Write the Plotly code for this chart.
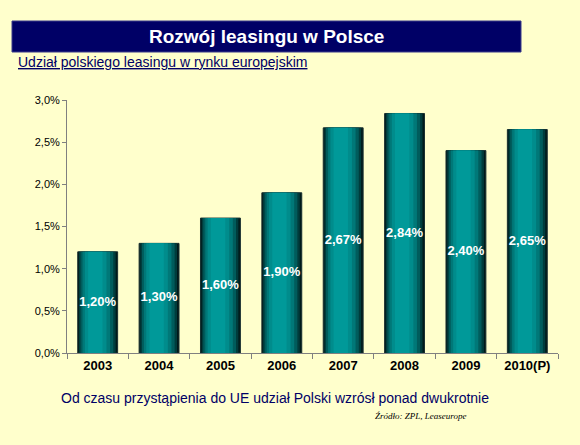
import plotly.graph_objects as go

years = ["2003", "2004", "2005", "2006", "2007", "2008", "2009", "2010(P)"]
share = [1.20, 1.30, 1.60, 1.90, 2.67, 2.84, 2.40, 2.65]
labels = [f"{v:.2f}".replace(".", ",") + "%" for v in share]

W, H = 580, 445
L, R, T, B = 67, 22, 100, 92
pw, ph = W - L - R, H - T - B


def px_x(px):
    return (px - L) / pw


def px_y(py):
    return (H - B - py) / ph


fig = go.Figure()

# fake cylinder shading: stacked overlay bars, dark edges -> teal centre
bar_w = 0.65
layers = [
    (0.00, 1.00, "#001a1a"),
    (0.03, 0.95, "#003c3c"),
    (0.07, 0.89, "#005c5c"),
    (0.12, 0.81, "#007878"),
    (0.18, 0.72, "#008c8c"),
    (0.26, 0.62, "#009999"),
]
for i, (a, b, col) in enumerate(layers):
    fig.add_trace(go.Bar(
        x=years, y=share,
        offset=-bar_w / 2 + a * bar_w, width=(b - a) * bar_w,
        marker=dict(color=col, line=dict(width=1 if i == 0 else 0, color="#1a3030")),
        hoverinfo="skip", showlegend=False,
    ))

fig.add_trace(go.Scatter(
    x=years, y=[v / 2 for v in share], mode="text", text=labels,
    textfont=dict(family="Arial, Liberation Sans", size=13, color="white", weight="bold"),
    showlegend=False, hoverinfo="skip",
))

fig.add_shape(type="rect", xref="paper", yref="paper",
              x0=px_x(12), x1=px_x(521), y0=px_y(52), y1=px_y(21),
              fillcolor="#000066", line=dict(color="#3a3a8a", width=1))

fig.add_annotation(xref="paper", yref="paper", x=px_x(266), y=px_y(36.5),
                   text="<b>Rozwój leasingu w Polsce</b>", showarrow=False,
                   font=dict(family="Arial, Liberation Sans", size=19, color="white"),
                   xanchor="center", yanchor="middle")
fig.add_annotation(xref="paper", yref="paper", x=px_x(16), y=px_y(62),
                   text="<u>Udział polskiego leasingu w rynku europejskim</u>", showarrow=False,
                   font=dict(family="Arial, Liberation Sans", size=14, color="#000066"),
                   xanchor="left", yanchor="middle")
fig.add_annotation(xref="paper", yref="paper", x=px_x(275), y=px_y(398),
                   text="Od czasu przystąpienia do UE udział Polski wzrósł ponad dwukrotnie",
                   showarrow=False,
                   font=dict(family="Arial, Liberation Sans", size=14, color="#000066"),
                   xanchor="center", yanchor="middle")
fig.add_annotation(xref="paper", yref="paper", x=px_x(373), y=px_y(416),
                   text="<i>Źródło: ZPL, Leaseurope</i>", showarrow=False,
                   font=dict(family="Times New Roman, Liberation Serif", size=9, color="black"),
                   xanchor="left", yanchor="middle")

fig.update_layout(
    width=W, height=H,
    margin=dict(l=L, r=R, t=T, b=B),
    paper_bgcolor="#FFFFCC", plot_bgcolor="#FFFFCC",
    barmode="overlay", separators=", ",
    showlegend=False,
    xaxis=dict(type="category", showline=True, linecolor="#808080", linewidth=1,
               ticks="outside", tickson="boundaries", ticklen=5, tickcolor="#808080",
               tickfont=dict(family="Arial, Liberation Sans", size=13, color="black", weight="bold"),
               showgrid=False, zeroline=False),
    yaxis=dict(range=[0, 3], dtick=0.5, tickformat=".1f", ticksuffix="%",
               showline=True, linecolor="#808080", linewidth=1,
               ticks="outside", ticklen=4, tickcolor="#808080",
               tickfont=dict(family="Arial, Liberation Sans", size=11, color="black"),
               showgrid=False, zeroline=False),
)

# the page's default body margin would push the figure 8px off the window
fig.write_html("out.html", config={"displayModeBar": False},
               post_script="document.body.style.margin='0';")
